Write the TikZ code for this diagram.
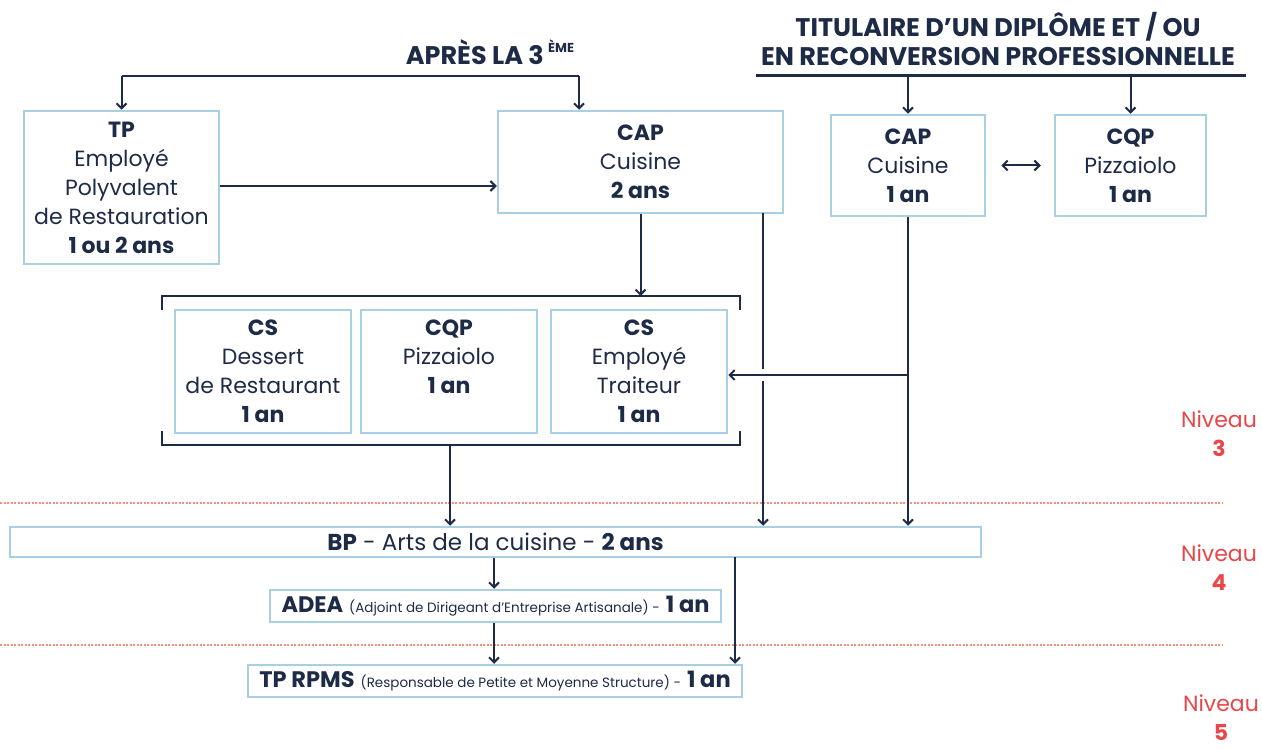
\documentclass[tikz,border=0pt]{standalone}
\usepackage{fontspec}
\setmainfont{Poppins}
\usepackage{xcolor}
\usepackage{tikz}
\usetikzlibrary{arrows.meta,positioning,calc}
\definecolor{navy}{HTML}{1E2B47}
\definecolor{boxblue}{HTML}{A8D0E2}
\definecolor{nivred}{HTML}{E8474A}
\definecolor{dotred}{HTML}{F2917B}
\tikzset{
  box/.style={draw=boxblue, line width=2.5pt, align=center, inner sep=0pt, text=navy},
  arr/.style={draw=navy, line width=2pt, -{Straight Barb[length=5pt,width=10pt,line width=2pt]}},
  lvl/.style={text=nivred, align=center},
  dots/.style={draw=dotred, line width=2.5pt, dash pattern=on 2pt off 1.5pt}
}

\begin{document}
\begin{tikzpicture}[x=1pt, y=-1pt, every node/.style={font=\fontsize{22}{29}\selectfont, text=navy}]
                                \useasboundingbox (0,0) rectangle (1262,749);

                                \node (apres) [font=\fontsize{25.5}{29}\selectfont\bfseries] at (490,52) {APRÈS LA 3\,\raisebox{0.45em}{\fontsize{13}{13}\selectfont ÈME}};
                                \node (titre) [font=\fontsize{25.5}{29}\selectfont\bfseries, align=center] at (998,39) {TITULAIRE D’UN DIPLÔME ET / OU\\EN RECONVERSION PROFESSIONNELLE};

                                \node (tp) [box, minimum width=195, minimum height=153] at (121.5,187.5) {\textbf{TP}\\Employé\\Polyvalent\\de Restauration\\\textbf{1 ou 2 ans}};
                                \node (cap2) [box, minimum width=285, minimum height=102] at (640.5,162) {\textbf{CAP}\\Cuisine\\\textbf{2 ans}};
                                \node (cap1) [box, minimum width=154, minimum height=101] at (908,165.5) {\textbf{CAP}\\Cuisine\\\textbf{1 an}};
                                \node (cqp1) [box, minimum width=151, minimum height=101] at (1130.5,165.5) {\textbf{CQP}\\Pizzaiolo\\\textbf{1 an}};

                                \node (csd) [box, minimum width=176, minimum height=123] at (263,371.5) {\textbf{CS}\\Dessert\\de Restaurant\\\textbf{1 an}};
                                \node (cqp2) [box, minimum width=176, minimum height=123] at (449,371.5) {\textbf{CQP}\\Pizzaiolo\\\textbf{1 an}\\~};
                                \node (cse) [box, minimum width=176, minimum height=123] at (639,371.5) {\textbf{CS}\\Employé\\Traiteur\\\textbf{1 an}};

                                \node (bp) [box, minimum width=971, minimum height=30, font=\fontsize{23}{25}\selectfont] at (495.5,542) {\textbf{BP} - Arts de la cuisine - \textbf{2 ans}};
                                \node (adea) [box, minimum width=451, minimum height=32, font=\fontsize{22.5}{25}\selectfont] at (495.5,606) {\textbf{ADEA} {\fontsize{13.5}{15}\selectfont(Adjoint de Dirigeant d'Entreprise Artisanale) -} \textbf{1 an}};
                                \node (rpms) [box, minimum width=494, minimum height=32, font=\fontsize{22.5}{25}\selectfont] at (495,681) {\textbf{TP RPMS} {\fontsize{13.5}{15}\selectfont(Responsable de Petite et Moyenne Structure) -} \textbf{1 an}};

                                \node (n3) [lvl] at (1219,434) {Niveau\\\textbf{3}};
                                \node (n4) [lvl] at (1219,568) {Niveau\\\textbf{4}};
                                \node (n5) [lvl] at (1221,718) {Niveau\\\textbf{5}};

                                \draw[dots] (0,503) -- (1222,503);
                                \draw[dots] (0,645) -- (1222,645);

                                \coordinate (l3) at (121.5,76);
                                \coordinate (r3) at (579,76);
                                \draw[navy, line width=2pt] (l3) -- (r3);
                                \draw[arr] (l3) -- (tp.north);
                                \draw[arr] (r3) -- (r3 |- cap2.north);

                                \coordinate (ul) at (756,76);
                                \coordinate (ur) at (1246,76);
                                \draw[navy, line width=3pt] (ul) -- (ur);
                                \draw[arr] (cap1.north |- ul) -- (cap1.north);
                                \draw[arr] (cqp1.north |- ul) -- (cqp1.north);

                                \draw[arr] (tp.east |- 0,186) -- (cap2.west |- 0,186);
                                \draw[arr, {Straight Barb[length=5pt,width=10pt,line width=2pt]}-{Straight Barb[length=5pt,width=10pt,line width=2pt]}] ([xshift=15]cap1.east) -- ([xshift=-13]cqp1.west);

                                \draw[navy, line width=2pt] (162,310) |- (740,296) -- (740,310);
                                \draw[navy, line width=2pt] (162,431) |- (740,445) -- (740,431);
                                \coordinate (grptop) at (640.5,296);
                                \coordinate (grpbot) at (450,445);
                                \draw[arr] (cap2.south) -- (grptop);
                                \draw[arr] (grpbot) -- (grpbot |- bp.north);

                                \coordinate (c2out) at (763,213);
                                \coordinate (jn) at (908,375);
                                \draw[arr] (c2out) -- (c2out |- bp.north);
                                \draw[white, line width=12pt] (jn) -- (jn -| 745,0);
                                \draw[arr] (jn) -- (jn -| cse.east);
                                \draw[arr] (cap1.south) -- (cap1.south |- bp.north);

                                \coordinate (bpout) at (735,557);
                                \draw[arr] (bp.south -| 494,0) -- (adea.north -| 494,0);
                                \draw[arr] (adea.south -| 494,0) -- (rpms.north -| 494,0);
                                \draw[arr] (bpout) -- (bpout |- rpms.north);
                            \end{tikzpicture}
\end{document}
